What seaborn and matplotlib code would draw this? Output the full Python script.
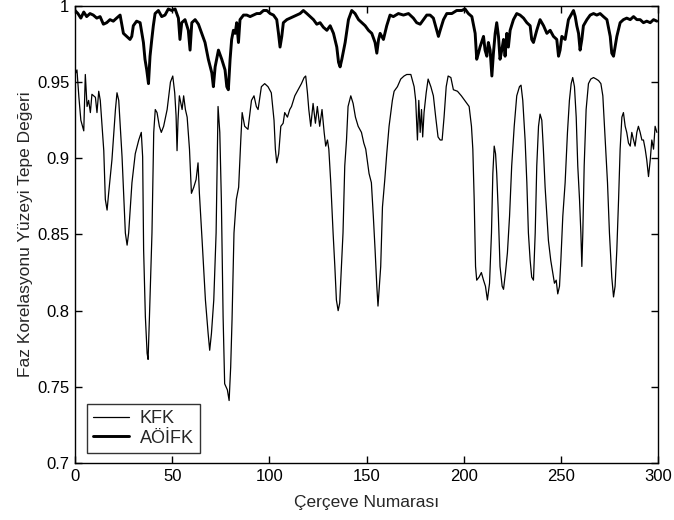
import numpy as np
import pandas as pd
import matplotlib
matplotlib.use("Agg")
import matplotlib.pyplot as plt
from matplotlib.ticker import FuncFormatter
import seaborn as sns

# ---------------- data ----------------
kfk_frame = [0, 1, 2, 3, 4.5, 5.3, 6.2, 7.0, 7.9, 8.7, 10.5, 11.3, 12.2, 13.0, 14.8, 15.6, 16.5, 17.3, 19.0,
             20.8, 21.6, 22.5, 24.2, 25.9, 26.8, 27.6, 29.3, 31.0, 32.8, 34.1, 34.8, 35.3, 36.2, 37.1, 37.6,
             38.3, 39.6, 40.5, 41.3, 42.2, 43.4, 44.4, 45.6, 47.4, 49.1, 50.3, 51.3, 52.0, 52.5, 53.0, 53.7,
             55.1, 55.9, 56.8, 57.7, 58.9, 59.9, 61.1, 62.3, 63.3, 64.0, 65.4, 67.1, 68.5, 69.3, 70.2, 71.4,
             72.6, 73.6, 74.5, 75.3, 76.2, 77.0, 78.4, 79.3, 80.1, 80.8, 81.8, 83.0, 84.2, 85.3, 86.0, 87.3,
             89.0, 90.8, 92.1, 93.3, 94.2, 95.9, 97.6, 99.3, 101.0, 102.4, 103.1, 103.8, 104.8, 105.9, 107.1,
             107.9, 109.3, 110.5, 111.4, 113.1, 114.8, 116.5, 117.9, 118.7, 119.6, 120.3, 121.3, 122.5, 123.7,
             124.7, 125.9, 127.1, 128.2, 129.0, 129.9, 130.6, 131.6, 132.8, 133.7, 134.5, 135.4, 136.2, 137.1,
             137.9, 138.8, 139.7, 140.5, 141.9, 143.1, 144.3, 145.7, 147.4, 148.6, 149.6, 151.3, 152.5, 153.5,
             154.4, 155.3, 155.9, 156.6, 157.3, 158.2, 159.4, 160.4, 161.6, 163.3, 164.2, 165.9, 167.6, 169.3,
             170.7, 172.8, 174.5, 175.3, 176.2, 176.9, 177.6, 178.3, 178.9, 179.6, 180.7, 181.7, 183.1, 184.4,
             185.6, 186.8, 187.9, 188.9, 189.9, 191.0, 192.0, 193.4, 194.7, 196.8, 198.8, 201.1, 202.8, 204.0,
             204.7, 205.4, 206.1, 206.7, 207.9, 209.1, 210.2, 211.2, 212.2, 213.3, 214.3, 215.0, 215.7, 216.4,
             217.0, 217.7, 218.7, 219.8, 220.5, 221.5, 222.5, 223.6, 224.7, 226.0, 227.3, 228.7, 229.5, 230.4,
             231.6, 232.5, 233.3, 234.2, 235.0, 235.9, 236.8, 237.6, 238.5, 239.3, 240.2, 241.0, 241.9, 242.8,
             243.6, 244.8, 245.8, 246.7, 247.6, 248.4, 249.3, 250.0, 251.0, 252.2, 253.4, 254.4, 255.3, 256.1,
             257.0, 257.9, 258.7, 259.6, 260.3, 260.8, 261.3, 262.0, 263.0, 264.2, 265.4, 266.8, 268.2, 269.4,
             270.6, 271.6, 272.8, 274.0, 275.0, 276.2, 277.1, 277.9, 278.8, 279.7, 280.5, 281.4, 282.2, 283.1,
             283.9, 284.8, 285.7, 286.5, 287.4, 288.2, 289.1, 289.9, 290.8, 291.7, 292.5, 293.4, 294.2, 295.1,
             296.0, 296.8, 297.7, 298.5, 299.4]
kfk_value = [0.955, 0.958, 0.940, 0.925, 0.918, 0.955, 0.934, 0.938, 0.930, 0.942, 0.940, 0.930, 0.944, 0.938,
             0.905, 0.873, 0.866, 0.877, 0.899, 0.932, 0.943, 0.938, 0.901, 0.851, 0.843, 0.851, 0.884, 0.903,
             0.912, 0.917, 0.901, 0.840, 0.796, 0.772, 0.768, 0.796, 0.851, 0.917, 0.932, 0.930, 0.921, 0.917,
             0.921, 0.932, 0.950, 0.954, 0.943, 0.928, 0.905, 0.925, 0.941, 0.932, 0.941, 0.932, 0.927, 0.906,
             0.877, 0.881, 0.886, 0.897, 0.877, 0.846, 0.807, 0.785, 0.774, 0.785, 0.807, 0.851, 0.934, 0.917,
             0.873, 0.796, 0.752, 0.748, 0.741, 0.763, 0.794, 0.851, 0.873, 0.881, 0.912, 0.930, 0.921, 0.919,
             0.938, 0.941, 0.934, 0.932, 0.947, 0.949, 0.947, 0.943, 0.925, 0.906, 0.897, 0.903, 0.921, 0.923,
             0.930, 0.927, 0.932, 0.934, 0.941, 0.945, 0.949, 0.953, 0.954, 0.943, 0.932, 0.921, 0.936, 0.923,
             0.934, 0.921, 0.932, 0.917, 0.908, 0.912, 0.906, 0.884, 0.851, 0.829, 0.807, 0.800, 0.805, 0.829,
             0.851, 0.895, 0.912, 0.934, 0.941, 0.936, 0.927, 0.921, 0.917, 0.910, 0.906, 0.890, 0.884, 0.862,
             0.840, 0.816, 0.803, 0.816, 0.829, 0.868, 0.886, 0.903, 0.921, 0.938, 0.944, 0.947, 0.952, 0.954,
             0.955, 0.955, 0.947, 0.938, 0.912, 0.938, 0.917, 0.932, 0.914, 0.930, 0.943, 0.952, 0.947, 0.941,
             0.927, 0.914, 0.912, 0.912, 0.927, 0.947, 0.954, 0.953, 0.945, 0.944, 0.941, 0.937, 0.934, 0.921,
             0.906, 0.873, 0.829, 0.820, 0.822, 0.825, 0.820, 0.816, 0.807, 0.818, 0.851, 0.890, 0.908, 0.903,
             0.890, 0.868, 0.829, 0.816, 0.814, 0.825, 0.838, 0.862, 0.895, 0.921, 0.941, 0.947, 0.948, 0.938,
             0.912, 0.884, 0.851, 0.833, 0.822, 0.820, 0.851, 0.895, 0.921, 0.929, 0.925, 0.906, 0.881, 0.862,
             0.846, 0.833, 0.825, 0.818, 0.820, 0.811, 0.816, 0.833, 0.862, 0.884, 0.917, 0.938, 0.949, 0.953,
             0.947, 0.927, 0.895, 0.873, 0.851, 0.829, 0.851, 0.895, 0.932, 0.949, 0.952, 0.953, 0.952, 0.951,
             0.949, 0.941, 0.912, 0.884, 0.851, 0.822, 0.809, 0.816, 0.840, 0.873, 0.906, 0.927, 0.930, 0.921,
             0.917, 0.910, 0.908, 0.917, 0.912, 0.908, 0.917, 0.921, 0.917, 0.912, 0.912, 0.906, 0.899, 0.888,
             0.899, 0.912, 0.906, 0.921, 0.917]

aoifk_frame = [0, 1.5, 3, 4.5, 6, 7.7, 9.4, 11.2, 12.9, 14.6, 16.3, 18.0, 19.7, 21.4, 23.2, 24.9, 26.6, 28.3,
               29.2, 30.0, 31.7, 33.5, 35.2, 36.0, 36.9, 37.8, 38.6, 39.5, 40.3, 41.2, 42.9, 44.6, 46.3, 48.0,
               49.8, 51.5, 53.2, 54.0, 54.9, 56.6, 58.3, 59.2, 60.1, 61.8, 63.5, 65.2, 66.9, 68.6, 70.4, 71.2,
               72.1, 73.8, 75.5, 77.2, 78.1, 78.9, 79.8, 80.6, 81.5, 82.4, 83.2, 84.1, 84.9, 86.7, 88.4, 90.1,
               91.8, 93.5, 95.2, 97.0, 98.7, 100.4, 102.1, 103.8, 104.7, 105.5, 106.4, 107.2, 109.0, 110.7,
               112.4, 114.1, 115.8, 117.5, 119.3, 121.0, 122.7, 124.4, 126.1, 127.8, 129.6, 131.3, 133.0, 134.7,
               135.6, 136.4, 137.3, 139.0, 140.7, 142.4, 144.1, 145.9, 147.6, 149.3, 151.0, 152.7, 154.4, 155.3,
               156.2, 157.0, 158.7, 160.4, 162.1, 163.8, 166.4, 169.0, 171.6, 174.1, 175.8, 177.6, 179.3, 181.0,
               182.7, 184.4, 186.1, 187.0, 187.9, 189.6, 191.3, 193.9, 196.4, 199.0, 200.7, 202.4, 204.2, 205.9,
               206.7, 207.6, 208.4, 210.2, 211.0, 211.9, 212.7, 213.6, 214.5, 215.3, 216.2, 217.0, 217.9, 218.7,
               219.6, 220.5, 221.3, 222.2, 223.0, 223.9, 225.6, 227.3, 229.0, 230.8, 232.5, 234.2, 235.0, 235.9,
               237.6, 239.3, 241.1, 242.8, 244.5, 246.2, 247.9, 248.8, 249.6, 250.5, 252.2, 253.9, 255.6, 256.5,
               257.4, 258.2, 259.1, 259.9, 260.8, 261.6, 263.4, 265.1, 266.8, 268.5, 270.2, 271.9, 273.7, 275.4,
               276.2, 277.1, 277.9, 278.8, 280.5, 282.2, 283.9, 285.7, 287.4, 289.1, 290.8, 292.5, 294.2, 296.0,
               297.7, 299.4]
aoifk_value = [0.997, 0.995, 0.992, 0.996, 0.993, 0.995, 0.994, 0.992, 0.993, 0.988, 0.989, 0.991, 0.990,
               0.992, 0.994, 0.982, 0.980, 0.978, 0.980, 0.987, 0.990, 0.989, 0.976, 0.965, 0.958, 0.949, 0.967,
               0.978, 0.987, 0.995, 0.997, 0.993, 0.994, 0.998, 0.997, 0.998, 0.992, 0.978, 0.989, 0.991, 0.984,
               0.971, 0.989, 0.991, 0.988, 0.982, 0.976, 0.965, 0.956, 0.947, 0.960, 0.971, 0.965, 0.958, 0.947,
               0.945, 0.965, 0.978, 0.984, 0.982, 0.989, 0.976, 0.991, 0.994, 0.994, 0.993, 0.994, 0.995, 0.995,
               0.997, 0.997, 0.995, 0.994, 0.991, 0.982, 0.973, 0.980, 0.989, 0.991, 0.992, 0.993, 0.994, 0.995,
               0.997, 0.995, 0.993, 0.991, 0.988, 0.989, 0.986, 0.984, 0.987, 0.982, 0.973, 0.963, 0.960, 0.965,
               0.976, 0.991, 0.997, 0.995, 0.991, 0.989, 0.987, 0.984, 0.982, 0.976, 0.969, 0.978, 0.982, 0.978,
               0.987, 0.994, 0.993, 0.995, 0.994, 0.995, 0.992, 0.989, 0.988, 0.991, 0.994, 0.994, 0.992, 0.984,
               0.980, 0.984, 0.991, 0.995, 0.995, 0.997, 0.997, 0.998, 0.995, 0.993, 0.982, 0.965, 0.969, 0.973,
               0.980, 0.971, 0.967, 0.976, 0.971, 0.954, 0.969, 0.982, 0.989, 0.980, 0.965, 0.971, 0.978, 0.967,
               0.982, 0.973, 0.984, 0.991, 0.995, 0.994, 0.992, 0.989, 0.987, 0.978, 0.976, 0.984, 0.991, 0.987,
               0.982, 0.984, 0.980, 0.978, 0.967, 0.971, 0.980, 0.978, 0.991, 0.995, 0.997, 0.993, 0.987, 0.982,
               0.971, 0.978, 0.987, 0.991, 0.994, 0.995, 0.994, 0.995, 0.993, 0.991, 0.980, 0.969, 0.967, 0.973,
               0.980, 0.989, 0.991, 0.992, 0.991, 0.993, 0.991, 0.991, 0.989, 0.990, 0.989, 0.991, 0.990]

series_names = ["KFK", "AÖİFK"]
x_ticks = [0, 50, 100, 150, 200, 250, 300]
y_ticks = [0.7, 0.75, 0.8, 0.85, 0.9, 0.95, 1.0]
x_label = "Çerçeve Numarası"
y_label = "Faz Korelasyonu Yüzeyi Tepe Değeri"

# ---------------- plot ----------------
sns.set_theme(style="ticks")
plt.rcParams["font.family"] = ["Liberation Sans", "DejaVu Sans"]
plt.rcParams["axes.linewidth"] = 1.0

df = pd.concat([
    pd.DataFrame({"frame": kfk_frame, "value": kfk_value, "series": series_names[0]}),
    pd.DataFrame({"frame": aoifk_frame, "value": aoifk_value, "series": series_names[1]}),
])

fig = plt.figure(figsize=(6.74, 5.2), dpi=100)
ax = fig.add_axes([0.1113, 0.1096, 0.865, 0.879])

sns.lineplot(data=df, x="frame", y="value", hue="series", size="series",
             palette={series_names[0]: "black", series_names[1]: "black"},
             sizes={series_names[0]: 0.9, series_names[1]: 2.1},
             estimator=None, sort=False, ax=ax)

ax.set_xlim(0, 300)
ax.set_ylim(0.7, 1.0)
ax.set_xticks(x_ticks)
ax.set_yticks(y_ticks)
ax.yaxis.set_major_formatter(FuncFormatter(lambda v, p: f"{v:g}"))
ax.xaxis.set_major_formatter(FuncFormatter(lambda v, p: f"{v:g}"))
ax.tick_params(direction="in", length=5, width=1, labelsize=12, colors="black",
               top=True, right=True, pad=4)
for s in ax.spines.values():
    s.set_visible(True)
    s.set_color("black")
    s.set_linewidth(1.0)

ax.set_xlabel(x_label, fontsize=12.5, labelpad=8)
ax.set_ylabel(y_label, fontsize=12.5, labelpad=3)

handles, labels = ax.get_legend_handles_labels()
leg = ax.legend(handles, labels, loc="lower left", bbox_to_anchor=(0.02, 0.022),
                borderaxespad=0, fontsize=13, frameon=True, fancybox=False,
                handlelength=2.0, handletextpad=0.6, borderpad=0.35, labelspacing=0.15)
leg.get_frame().set_edgecolor("black")
leg.get_frame().set_linewidth(1.0)

fig.savefig("out.png", dpi=100, facecolor="white")
